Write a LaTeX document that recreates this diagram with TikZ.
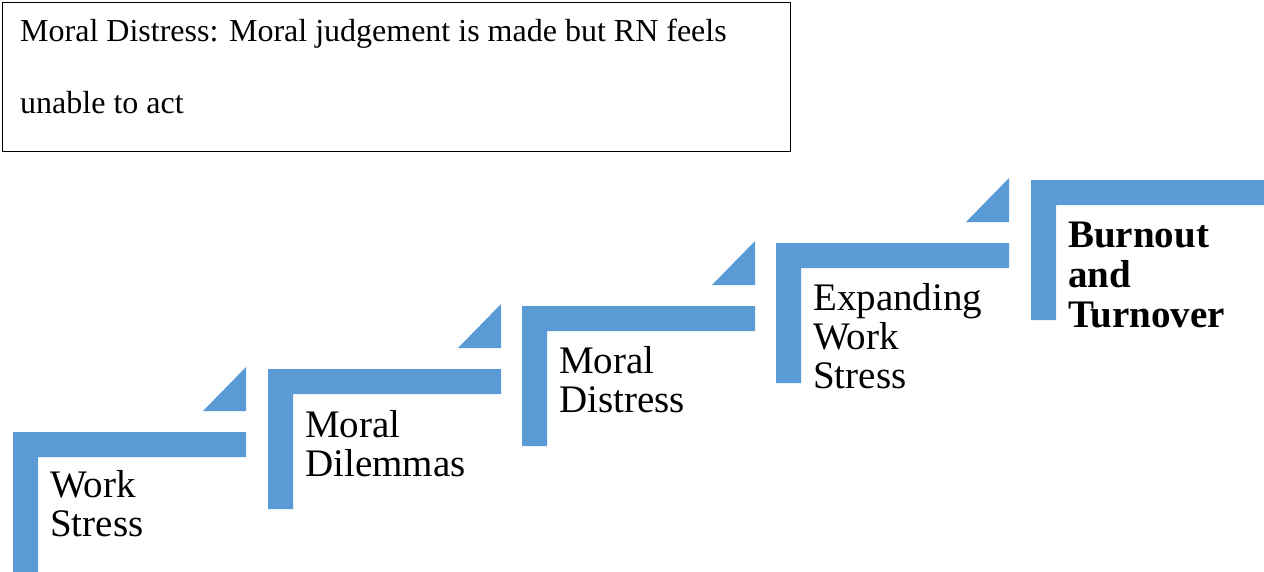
\documentclass[tikz,border=0pt]{standalone}
\usepackage{fontspec}
\setmainfont{Liberation Serif}
\definecolor{stepblue}{HTML}{5B9BD5}
\tikzset{
    stepbar/.style={fill=stepblue, draw=none},
    steplabel/.style={anchor=base west, align=left, inner sep=0pt,
        font=\fontsize{39pt}{39pt}\selectfont},
    notelabel/.style={anchor=base west, align=left, inner sep=0pt,
        font=\fontsize{32pt}{72pt}\selectfont}
}
\begin{document}
\begin{tikzpicture}[x=1pt, y=-1pt]
            \useasboundingbox (0,0) rectangle (1264,571);

            \node[draw, line width=1pt, anchor=north west, inner sep=0pt,
                minimum width=788pt, minimum height=149pt] (notebox) at (2,2) {};
                \node[notelabel] (note) at (20,113)
                    {Moral Distress: Moral judgement is made but RN feels\\unable to act};

            \fill[stepbar] (13,432) -- (246,432) -- (246,457) -- (38,457) -- (38,572) -- (13,572) -- cycle;
            \fill[stepbar] (246,367) -- (246,411) -- (203,411) -- cycle;
                \node[steplabel] (workstress) at (50,536) {Work\\Stress};

            \fill[stepbar] (268,369) -- (501,369) -- (501,394) -- (293,394) -- (293,509) -- (268,509) -- cycle;
            \fill[stepbar] (501,304) -- (501,348) -- (458,348) -- cycle;
                \node[steplabel] (dilemmas) at (305,476) {Moral\\Dilemmas};

            \fill[stepbar] (522,306) -- (755,306) -- (755,331) -- (547,331) -- (547,446) -- (522,446) -- cycle;
            \fill[stepbar] (755,241) -- (755,285) -- (712,285) -- cycle;
                \node[steplabel] (distress) at (559,412) {Moral\\Distress};

            \fill[stepbar] (776,243) -- (1009,243) -- (1009,268) -- (801,268) -- (801,383) -- (776,383) -- cycle;
            \fill[stepbar] (1009,178) -- (1009,222) -- (966,222) -- cycle;
                \node[steplabel] (expanding) at (813,388) {Expanding\\Work\\Stress};

            \fill[stepbar] (1031,180) -- (1264,180) -- (1264,205) -- (1056,205) -- (1056,320) -- (1031,320) -- cycle;
                \node[steplabel, font=\fontsize{39pt}{40pt}\selectfont\bfseries] (burnout) at (1068,327) {Burnout\\and\\Turnover};
      \end{tikzpicture}
\end{document}
